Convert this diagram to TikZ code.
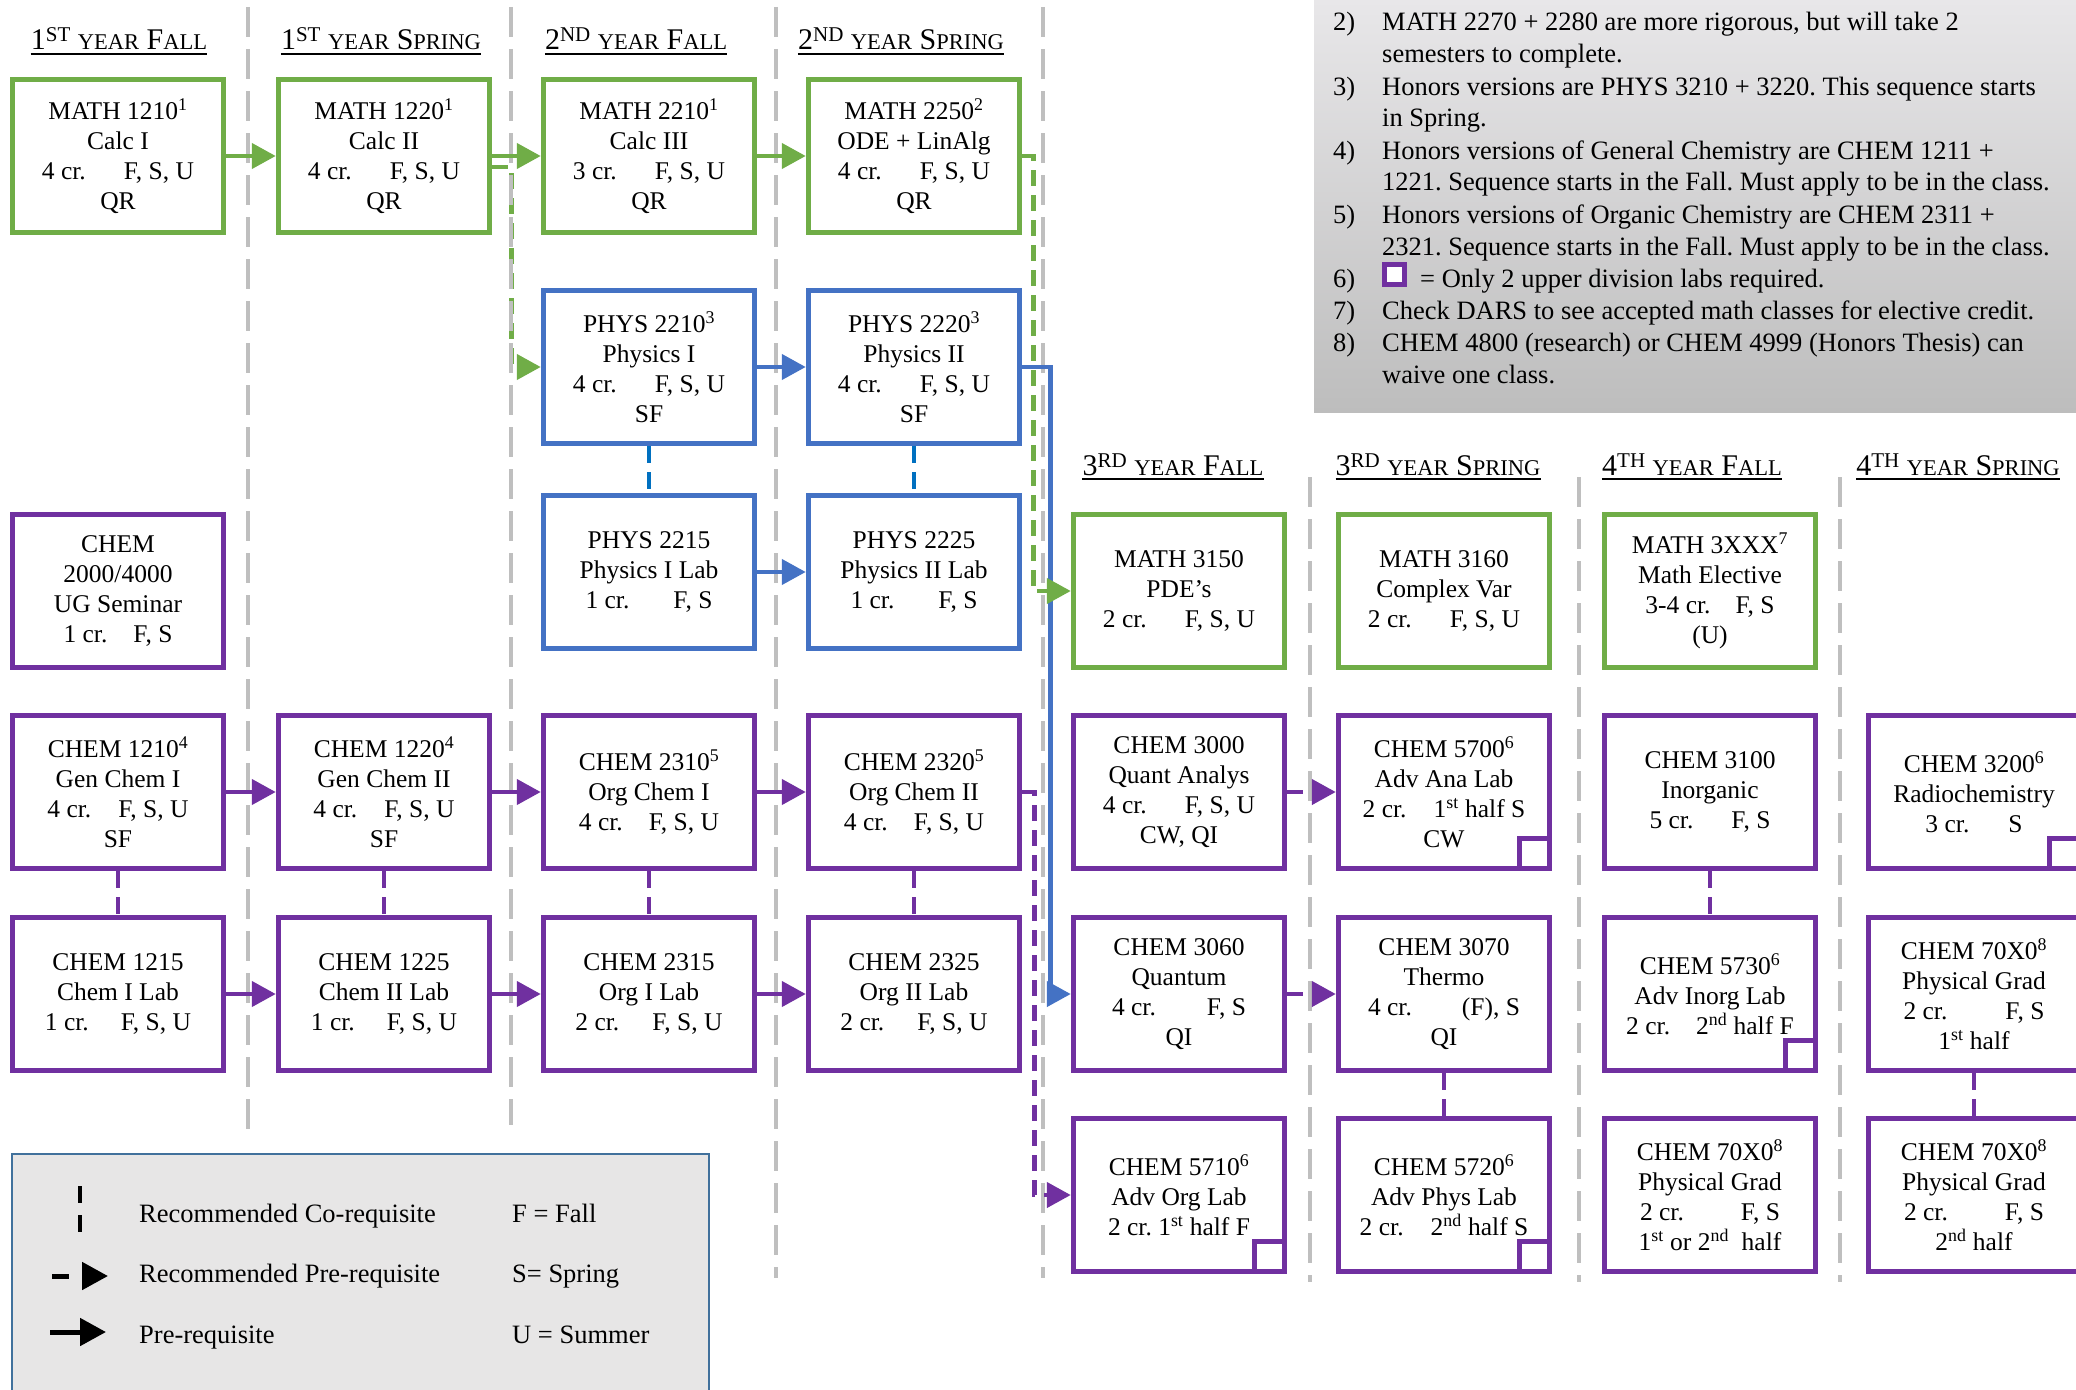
\documentclass[tikz,border=0pt]{standalone}
\usepackage{fontspec}
\setmainfont{Liberation Serif}
\usetikzlibrary{arrows.meta,calc}
\frenchspacing

\definecolor{mgreen}{HTML}{70AD47}
\definecolor{pblue}{HTML}{4472C4}
\definecolor{cpurple}{HTML}{7030A0}
\definecolor{cblue}{HTML}{0070C0}
\definecolor{gline}{HTML}{BFBFBF}
\definecolor{legfill}{HTML}{E7E6E6}
\definecolor{legedge}{HTML}{41719C}
\definecolor{notetop}{HTML}{E8E7E9}
\definecolor{notebot}{HTML}{BDBDBD}

\newcommand{\crsfont}{\fontsize{25.5}{30}\selectfont}
\newcommand{\notefont}{\fontsize{26.5}{32}\selectfont}
\newcommand{\hdrfont}{\fontsize{30}{30}\selectfont}
\newcommand{\hsm}[1]{{\fontsize{22.5}{22.5}\selectfont #1}}
\newcommand{\hsup}[1]{\raisebox{8pt}{\fontsize{21}{21}\selectfont #1}}
\newcommand{\sx}[1]{\textsuperscript{#1}}

\begin{document}
\begin{tikzpicture}[x=1pt,y=-1pt,
  course/.style={draw, line width=5.5pt, minimum width=211pt, minimum height=153pt,
    inner sep=0pt, align=center, fill=white, font=\crsfont},
  mbox/.style={course, draw=mgreen},
  pbox/.style={course, draw=pblue},
  cbox/.style={course, draw=cpurple},
  colline/.style={gline, line width=4pt, dash pattern=on 30pt off 12pt},
  req/.style={line width=4.5pt, -{Triangle[length=24pt,width=25pt]}},
  rec/.style={req, dash pattern=on 16pt off 9pt},
  coreq/.style={line width=4.5pt, dash pattern=on 17pt off 9pt},
  hdr/.style={font=\hdrfont, inner sep=0pt, anchor=base},
  legtxt/.style={font=\notefont, inner sep=0pt, anchor=base west},
  labsq/.style={draw=cpurple, line width=5.5pt, fill=white}
]
\useasboundingbox (0,0) rectangle (2076,1389);
\clip (0,0) rectangle (2076,1389);

% notes box
\shade[top color=notetop, bottom color=notebot] (1314,0) rectangle (2076,412);
\node[anchor=base west, inner sep=0pt, font=\notefont] (notes) at (1333,31) {%
\begin{tabular}[t]{@{}p{49pt}@{}l@{}}
2) & MATH 2270 + 2280 are more rigorous, but will take 2\\
   & semesters to complete.\\
3) & Honors versions are PHYS 3210 + 3220. This sequence starts\\
   & in Spring.\\
4) & Honors versions of General Chemistry are CHEM 1211 +\\
   & 1221. Sequence starts in the Fall. Must apply to be in the class.\\
5) & Honors versions of Organic Chemistry are CHEM 2311 +\\
   & 2321. Sequence starts in the Fall. Must apply to be in the class.\\
6) & \hspace{38pt}= Only 2 upper division labs required.\\
7) & Check DARS to see accepted math classes for elective credit.\\
8) & CHEM 4800 (research) or CHEM 4999 (Honors Thesis) can\\
   & waive one class.
\end{tabular}};
\draw[cpurple, line width=5pt, fill=white] (1384.5,264.5) rectangle (1404.5,284.5);

% headers
\node[hdr] (h1) at (119,50) {1\hsup{ST} \hsm{YEAR} F\hsm{ALL}};
\node[hdr] (h2) at (381,50) {1\hsup{ST} \hsm{YEAR} S\hsm{PRING}};
\node[hdr] (h3) at (636,50) {2\hsup{ND} \hsm{YEAR} F\hsm{ALL}};
\node[hdr] (h4) at (901,50) {2\hsup{ND} \hsm{YEAR} S\hsm{PRING}};
\node[hdr] (h5) at (1173,475) {3\hsup{RD} \hsm{YEAR} F\hsm{ALL}};
\node[hdr] (h6) at (1438,475) {3\hsup{RD} \hsm{YEAR} S\hsm{PRING}};
\node[hdr] (h7) at (1692,475) {4\hsup{TH} \hsm{YEAR} F\hsm{ALL}};
\node[hdr] (h8) at (1958,475) {4\hsup{TH} \hsm{YEAR} S\hsm{PRING}};
\foreach \h in {h1,h2,h3,h4,h5,h6,h7,h8}
  \draw[line width=2pt] ([yshift=-4pt]\h.base west) -- ([yshift=-4pt]\h.base east);

% column 1
\node[mbox] (m1210) at (118,156) {MATH 1210\sx{1}\\Calc I\\4 cr.\hspace{38pt}F, S, U\\QR};
\node[cbox] (sem) at (118,591) {CHEM\\2000/4000\\UG Seminar\\1 cr.\hspace{26pt}F, S};
\node[cbox] (c1210) at (118,792) {CHEM 1210\sx{4}\\Gen Chem I\\4 cr.\hspace{27pt}F, S, U\\SF};
\node[cbox] (c1215) at (118,994) {CHEM 1215\\Chem I Lab\\1 cr.\hspace{32pt}F, S, U};
% column 2
\node[mbox] (m1220) at (384,156) {MATH 1220\sx{1}\\Calc II\\4 cr.\hspace{38pt}F, S, U\\QR};
\node[cbox] (c1220) at (384,792) {CHEM 1220\sx{4}\\Gen Chem II\\4 cr.\hspace{27pt}F, S, U\\SF};
\node[cbox] (c1225) at (384,994) {CHEM 1225\\Chem II Lab\\1 cr.\hspace{32pt}F, S, U};
% column 3
\node[mbox] (m2210) at (649,156) {MATH 2210\sx{1}\\Calc III\\3 cr.\hspace{38pt}F, S, U\\QR};
\node[pbox] (p2210) at (649,367) {PHYS 2210\sx{3}\\Physics I\\4 cr.\hspace{38pt}F, S, U\\SF};
\node[pbox] (p2215) at (649,572) {PHYS 2215\\Physics I Lab\\1 cr.\hspace{44pt}F, S};
\node[cbox] (c2310) at (649,792) {CHEM 2310\sx{5}\\Org Chem I\\4 cr.\hspace{26pt}F, S, U};
\node[cbox] (c2315) at (649,994) {CHEM 2315\\Org I Lab\\2 cr.\hspace{33pt}F, S, U};
% column 4
\node[mbox] (m2250) at (914,156) {MATH 2250\sx{2}\\ODE + LinAlg\\4 cr.\hspace{38pt}F, S, U\\QR};
\node[pbox] (p2220) at (914,367) {PHYS 2220\sx{3}\\Physics II\\4 cr.\hspace{38pt}F, S, U\\SF};
\node[pbox] (p2225) at (914,572) {PHYS 2225\\Physics II Lab\\1 cr.\hspace{44pt}F, S};
\node[cbox] (c2320) at (914,792) {CHEM 2320\sx{5}\\Org Chem II\\4 cr.\hspace{26pt}F, S, U};
\node[cbox] (c2325) at (914,994) {CHEM 2325\\Org II Lab\\2 cr.\hspace{33pt}F, S, U};
% column 5
\node[mbox] (m3150) at (1179,591) {MATH 3150\\PDE’s\\2 cr.\hspace{38pt}F, S, U};
\node[cbox] (c3000) at (1179,792) {CHEM 3000\\Quant Analys\\4 cr.\hspace{38pt}F, S, U\\CW, QI};
\node[cbox] (c3060) at (1179,994) {CHEM 3060\\Quantum\\4 cr.\hspace{51pt}F, S\\QI};
\node[cbox] (c5710) at (1179,1195) {CHEM 5710\sx{6}\\Adv Org Lab\\2 cr. 1\sx{st} half F};
% column 6
\node[mbox] (m3160) at (1444,591) {MATH 3160\\Complex Var\\2 cr.\hspace{38pt}F, S, U};
\node[cbox] (c5700) at (1444,792) {CHEM 5700\sx{6}\\Adv Ana Lab\\2 cr.\hspace{27pt}1\sx{st} half S\\CW};
\node[cbox] (c3070) at (1444,994) {CHEM 3070\\Thermo\\4 cr.\hspace{50pt}(F), S\\QI};
\node[cbox] (c5720) at (1444,1195) {CHEM 5720\sx{6}\\Adv Phys Lab\\2 cr.\hspace{27pt}2\sx{nd} half S};
% column 7
\node[mbox] (m3xxx) at (1710,591) {MATH 3XXX\sx{7}\\Math Elective\\3-4 cr.\hspace{25pt}F, S\\(U)};
\node[cbox] (c3100) at (1710,792) {CHEM 3100\\Inorganic\\5 cr.\hspace{38pt}F, S};
\node[cbox] (c5730) at (1710,994) {CHEM 5730\sx{6}\\Adv Inorg Lab\\2 cr.\hspace{26pt}2\sx{nd} half F};
\node[cbox] (g1) at (1710,1195) {CHEM 70X0\sx{8}\\Physical Grad\\2 cr.\hspace{57pt}F, S\\1\sx{st} or 2\sx{nd}\ \ half};
% column 8
\node[cbox] (c3200) at (1974,792) {CHEM 3200\sx{6}\\Radiochemistry\\3 cr.\hspace{39pt}S};
\node[cbox] (g2) at (1974,994) {CHEM 70X0\sx{8}\\Physical Grad\\2 cr.\hspace{58pt}F, S\\1\sx{st} half};
\node[cbox] (g3) at (1974,1195) {CHEM 70X0\sx{8}\\Physical Grad\\2 cr.\hspace{57pt}F, S\\2\sx{nd} half};

% lab squares
\foreach \b in {c5700,c5710,c5720,c5730,c3200}
  \draw[labsq] ($(\b.south east)+(-33,-2.75)$) rectangle ($(\b.south east)+(-2.75,-33)$);

% recommended pre-req drawn beneath the grey line
\draw[rec, mgreen] ($(m1220.east)+(0,11)$) -- ++(19,0) |- (p2210.west);

% grey column separators
\draw[colline] (248,7) -- (248,1132);
\draw[colline] (511,7) -- (511,1125);
\draw[colline] (776,7) -- (776,1278);
\draw[colline] (1043,7) -- (1043,1278);
\draw[colline] (1310,477) -- (1310,1282);
\draw[colline] (1579,477) -- (1579,1282);
\draw[colline] (1840,477) -- (1840,1282);

% pre-requisites
\draw[req, mgreen] (m1210) -- (m1220);
\draw[req, mgreen] (m1220) -- (m2210);
\draw[req, mgreen] (m2210) -- (m2250);
\draw[req, pblue] (p2210) -- (p2220);
\draw[req, pblue] (p2215) -- (p2225);
\draw[req, pblue] (p2220.east) -- ++(28,0) |- (c3060.west);
\draw[req, cpurple] (c1210) -- (c1220);
\draw[req, cpurple] (c1220) -- (c2310);
\draw[req, cpurple] (c2310) -- (c2320);
\draw[req, cpurple] (c1215) -- (c1225);
\draw[req, cpurple] (c1225) -- (c2315);
\draw[req, cpurple] (c2315) -- (c2325);

% recommended pre-requisites
\draw[rec, mgreen] (m2250.east) -- ++(11,0) |- (m3150.west);
\draw[rec, cpurple] (c2320.east) -- ++(12,0) |- (c5710.west);
\draw[rec, cpurple] (c3000) -- (c5700);
\draw[rec, cpurple] (c3060) -- (c3070);

% co-requisites
\draw[coreq, cblue] (p2210) -- (p2215);
\draw[coreq, cblue] (p2220) -- (p2225);
\draw[coreq, cpurple] (c1210) -- (c1215);
\draw[coreq, cpurple] (c1220) -- (c1225);
\draw[coreq, cpurple] (c2310) -- (c2315);
\draw[coreq, cpurple] (c2320) -- (c2325);
\draw[coreq, cpurple] (c3070) -- (c5720);
\draw[coreq, cpurple] (c3100) -- (c5730);
\draw[coreq, cpurple] (g2) -- (g3);

% legend
\draw[fill=legfill, draw=legedge, line width=2pt] (12,1154) rectangle (709,1400);
\coordinate (k1a) at (80,1186);
\coordinate (k1b) at (80,1232);
\coordinate (k2a) at (52,1276);
\coordinate (k2b) at (108,1276);
\coordinate (k3a) at (50,1332);
\coordinate (k3b) at (106,1332);
\draw[black, line width=4pt, dash pattern=on 17pt off 12pt] (k1a) -- (k1b);
\draw[black, line width=5pt, dash pattern=on 17pt off 13pt, -{Triangle[length=26pt,width=27pt]}] (k2a) -- (k2b);
\draw[black, line width=5pt, -{Triangle[length=26pt,width=27pt]}] (k3a) -- (k3b);
\node[legtxt] (l1) at (139,1222) {Recommended Co-requisite};
\node[legtxt] (l2) at (139,1282) {Recommended Pre-requisite};
\node[legtxt] (l3) at (139,1343) {Pre-requisite};
\node[legtxt] (l4) at (512,1222) {F = Fall};
\node[legtxt] (l5) at (512,1282) {S= Spring};
\node[legtxt] (l6) at (512,1343) {U = Summer};
\end{tikzpicture}
\end{document}
